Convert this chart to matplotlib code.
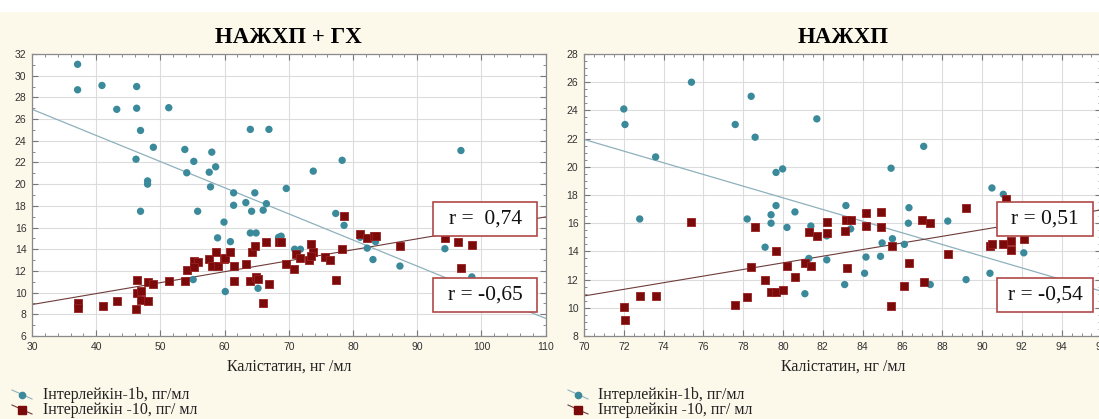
import matplotlib.pyplot as plt
import numpy as np
from matplotlib.lines import Line2D
from matplotlib.patches import Rectangle
from matplotlib.ticker import MultipleLocator

# НАЖХП + ГХ group
x1_il1b = [37.1, 37.1, 40.9, 46.3, 43.2, 46.3, 51.3, 46.9, 48.9, 46.2, 48.0, 48.0, 46.9,
           53.8, 55.2, 54.1, 58.0, 58.6, 57.6, 57.8, 55.8, 61.4, 61.4, 63.3, 64.0, 66.9,
           64.7, 64.2, 66.5, 66.0, 59.9, 64.0, 64.9, 58.9, 60.9, 55.1, 60.1, 65.2, 68.4,
           78.3, 73.8, 69.6, 96.8, 77.3, 78.6, 68.8, 81.1, 70.9, 71.8, 73.8, 82.2, 83.5,
           83.1, 87.3, 94.3, 98.5]
y1_il1b = [31.05, 28.7, 29.1, 29.0, 26.9, 27.0, 27.05, 24.95, 23.4, 22.3, 20.3, 20.0, 17.5,
           23.2, 22.1, 21.05, 22.95, 21.6, 21.1, 19.75, 17.5, 19.2, 18.05, 18.3, 25.05, 25.05,
           19.2, 17.5, 18.2, 17.6, 16.5, 15.5, 15.5, 15.05, 14.7, 11.2, 10.1, 10.4, 15.1,
           22.2, 21.2, 19.6, 23.1, 17.3, 16.2, 15.2, 15.1, 14.0, 14.0, 13.5, 14.1, 14.7,
           13.05, 12.45, 14.05, 11.45]
x1_il10 = [37.2, 37.2, 41.0, 43.2, 46.3, 46.3, 46.9, 46.9, 46.2, 48.0, 48.0, 48.9, 51.3,
           53.8, 54.1, 55.2, 55.8, 55.2, 57.6, 58.0, 58.6, 58.9, 59.9, 60.1, 60.9, 61.4,
           61.4, 63.3, 64.0, 64.2, 64.7, 64.9, 65.2, 66.0, 66.5, 66.9, 68.4, 68.8, 69.6,
           70.8, 71.1, 71.7, 73.4, 73.2, 73.8, 73.5, 75.6, 76.4, 77.3, 78.6, 78.3, 81.1,
           82.2, 83.2, 83.6, 87.3, 94.3, 96.3, 96.8, 98.5]
y1_il10 = [9.05, 8.6, 8.8, 9.2, 11.2, 10.0, 10.15, 9.3, 8.45, 11.0, 9.2, 10.8, 11.05,
           11.05, 12.05, 12.9, 12.8, 12.35, 13.1, 12.45, 13.75, 12.45, 13.1, 13.15, 13.75, 12.5,
           11.05, 12.6, 11.05, 13.75, 14.3, 11.4, 11.3, 9.0, 14.7, 10.8, 14.7, 14.7, 12.6,
           12.2, 13.6, 13.2, 14.5, 13.0, 13.75, 13.35, 13.3, 13.0, 11.2, 17.05, 14.0, 15.45,
           15.0, 15.2, 15.2, 14.3, 15.05, 14.7, 12.3, 14.4]

# НАЖХП group
x2_il1b = [72.0, 72.06, 75.4, 73.6, 72.8, 77.6, 78.4, 78.6, 79.65, 79.98, 79.65, 79.4,
           79.4, 78.2, 80.6, 80.2, 79.1, 81.4, 81.3, 81.1, 81.7, 87.07, 85.43, 90.5,
           91.07, 83.16, 86.33, 86.3, 88.28, 83.4, 82.2, 84.98, 85.5, 86.1, 84.17, 84.9,
           82.2, 84.1, 83.1, 87.4, 89.2, 90.4, 92.1]
y2_il1b = [24.1, 23.0, 26.0, 20.7, 16.3, 23.0, 25.0, 22.1, 19.6, 19.85, 17.25, 16.6,
           16.0, 16.3, 16.8, 15.7, 14.3, 15.8, 13.5, 11.0, 23.4, 21.45, 19.9, 18.5,
           18.05, 17.25, 17.1, 16.0, 16.15, 15.6, 15.1, 14.6, 14.9, 14.5, 13.6, 13.65,
           13.4, 12.45, 11.65, 11.65, 12.0, 12.45, 13.9]
x2_il10 = [72.0, 72.06, 72.8, 73.6, 75.4, 77.6, 78.2, 78.4, 78.6, 79.1, 79.65, 79.4,
           79.65, 80.0, 80.2, 80.6, 81.1, 81.4, 81.3, 81.7, 91.2, 89.2, 84.9, 84.17,
           82.2, 83.16, 83.4, 87.0, 87.4, 84.17, 84.9, 82.2, 83.1, 85.5, 90.4, 90.5,
           91.07, 91.45, 91.45, 92.1, 88.28, 86.33, 83.2, 86.1, 87.07, 85.43]
y2_il10 = [10.05, 9.1, 10.85, 10.85, 16.1, 10.2, 10.75, 12.9, 15.75, 11.95, 14.0, 11.1,
           11.1, 11.25, 13.0, 12.2, 13.15, 13.0, 15.4, 15.1, 17.7, 17.05, 16.8, 16.7,
           16.05, 16.2, 16.2, 16.2, 16.0, 15.8, 15.75, 15.3, 15.45, 14.4, 14.35, 14.5,
           14.5, 14.1, 14.75, 14.9, 13.8, 13.2, 12.8, 11.55, 11.85, 10.1]

# linear fits (intercept at left axis limit, slope)
fit1_il1b = (26.9, -0.241)
fit1_il10 = (8.9, 0.101)
fit2_il1b = (21.94, -0.414)
fit2_il10 = (10.84, 0.235)

r_labels1 = ["r =  0,74", "r = -0,65"]
r_labels2 = ["r = 0,51", "r = -0,54"]

titles = ["НАЖХП + ГХ", "НАЖХП"]
xlabel = "Калістатин, нг /мл"
legend_labels = ["Інтерлейкін-1b, пг/мл", "Інтерлейкін -10, пг/ мл"]

teal = "#3a8a9b"
maroon = "#7b0a0a"
teal_line = "#8fb0bd"
maroon_line = "#6e3c3c"
bg = "#fcf8ea"
serif = ["Liberation Serif", "DejaVu Serif"]
sans = ["Liberation Sans", "DejaVu Sans"]

W, H = 1099, 419
fig = plt.figure(figsize=(W / 100, H / 100), dpi=100, facecolor=bg)
fig.add_artist(Rectangle((0, 1 - 12 / H), 1, 12 / H, transform=fig.transFigure,
                         facecolor="white", edgecolor="none", zorder=0))

panels = [
    dict(rect=[32 / W, 83 / H, 513.7 / W, 282 / H], xlim=(30, 110), ylim=(6, 32),
         xmaj=10, xmin=2, ymaj=2, ymin=1, data=(x1_il1b, y1_il1b, x1_il10, y1_il10),
         fits=(fit1_il1b, fit1_il10), r=r_labels1, title=titles[0], box=(0.781, 0.983)),
    dict(rect=[584 / W, 83 / H, 517.4 / W, 282 / H], xlim=(70, 96), ylim=(8, 28),
         xmaj=2, xmin=0.5, ymaj=2, ymin=0.5, data=(x2_il1b, y2_il1b, x2_il10, y2_il10),
         fits=(fit2_il1b, fit2_il10), r=r_labels2, title=titles[1], box=(0.798, 0.984)),
]

for p in panels:
    ax = fig.add_axes(p["rect"])
    ax.set_facecolor("white")
    ax.set_xlim(*p["xlim"])
    ax.set_ylim(*p["ylim"])
    ax.xaxis.set_major_locator(MultipleLocator(p["xmaj"]))
    ax.xaxis.set_minor_locator(MultipleLocator(p["xmin"]))
    ax.yaxis.set_major_locator(MultipleLocator(p["ymaj"]))
    ax.yaxis.set_minor_locator(MultipleLocator(p["ymin"]))
    ax.grid(True, which="major", color="#dcdcdc", linewidth=0.8)
    ax.set_axisbelow(True)
    for s in ax.spines.values():
        s.set_color("#8a8a8a")
        s.set_linewidth(0.9)
    ax.tick_params(which="both", direction="in", top=True, right=True, colors="#777777",
                   labelcolor="#333333", labelsize=7.5, pad=4)
    ax.tick_params(which="major", length=4)
    ax.tick_params(which="minor", length=2)
    for lab in ax.get_xticklabels() + ax.get_yticklabels():
        lab.set_family(sans)

    xa, ya, xb, yb = p["data"]
    xs = np.array(p["xlim"], dtype=float)
    (a1, b1), (a2, b2) = p["fits"]
    ax.plot(xs, a1 + b1 * (xs - xs[0]), color=teal_line, lw=0.9, zorder=2)
    ax.plot(xs, a2 + b2 * (xs - xs[0]), color=maroon_line, lw=0.8, zorder=2)
    ax.scatter(xa, ya, s=28, marker="o", color=teal, edgecolors="none", zorder=3)
    ax.scatter(xb, yb, s=34, marker="s", color=maroon, edgecolors="#9a2020",
               linewidths=0.6, zorder=4)

    ax.set_title(p["title"], fontsize=16.5, fontweight="bold", family=serif, pad=8)
    ax.set_xlabel(xlabel, fontsize=11.5, family=serif, color="#222222", labelpad=5)

    # correlation boxes
    bx0, bx1 = p["box"]
    for label, yc in zip(p["r"], [0.415, 0.145]):
        ax.add_patch(Rectangle((bx0, yc - 0.06), bx1 - bx0, 0.12, transform=ax.transAxes,
                               facecolor="white", edgecolor="#b04848", lw=1.2, zorder=6))
        ax.text((bx0 + bx1) / 2, yc, label, transform=ax.transAxes, ha="center",
                va="center", fontsize=15.5, family=serif, color="#111111", zorder=7)

# legends drawn below each panel
for mx, tx in [(22, 43), (578, 598)]:
    for i, (col, mk, ms) in enumerate([(teal, "o", 4.5), (maroon, "s", 5.5)]):
        yy = 1 - (395 + 15 * i) / H
        fig.add_artist(Line2D([(mx - 10) / W, (mx + 10) / W], [yy + 5 / H, yy - 4 / H],
                              transform=fig.transFigure,
                              color=teal_line if i == 0 else maroon_line, lw=0.8))
        fig.add_artist(Line2D([mx / W], [yy], transform=fig.transFigure,
                              marker=mk, markersize=ms, color=col, linestyle="none"))
        fig.text(tx / W, yy, legend_labels[i], fontsize=11.5, family=serif,
                 va="center", ha="left", color="#222222")

fig.savefig("out.png", dpi=100, facecolor=bg)
